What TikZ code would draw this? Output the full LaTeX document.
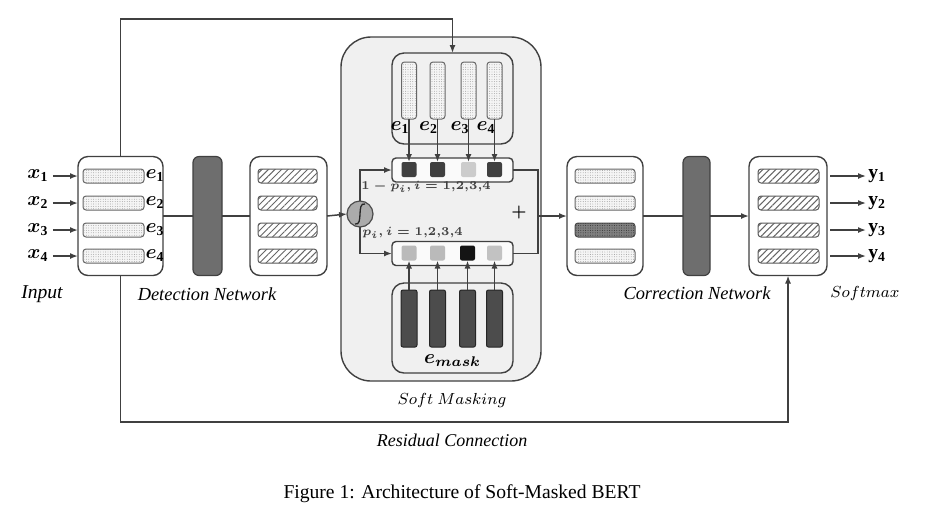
\documentclass[tikz,border=0pt]{standalone}
\usepackage{fontspec}
\setmainfont{Liberation Serif}
\usepackage{bm}
\usetikzlibrary{arrows.meta,patterns.meta,calc}
\begin{document}
\begin{tikzpicture}[x=0.5pt,y=-0.5pt,
  wire/.style={draw=black!75,line width=0.75pt},
  wirearr/.style={wire,-{Latex[length=4pt,width=3pt]}},
  roundbox/.style={draw=black!75,line width=0.7pt,rounded corners=5pt,fill=white,inner sep=0pt,outer sep=0pt},
  dotbar/.style={draw=black!60,line width=0.5pt,rounded corners=1.5pt,fill=gray!8,inner sep=0pt,outer sep=0pt,
     postaction={pattern={Dots[radius=0.22pt,distance=1.2pt]},pattern color=black!45}},
  darkdotbar/.style={draw=black!70,line width=0.5pt,rounded corners=1.5pt,fill=black!50,inner sep=0pt,outer sep=0pt,
     postaction={pattern={Dots[radius=0.25pt,distance=1.2pt]},pattern color=black!80}},
  hatchbar/.style={draw=black!65,line width=0.5pt,rounded corners=1.5pt,fill=white,inner sep=0pt,outer sep=0pt,
     postaction={pattern={Lines[angle=45,distance=2.3pt,line width=0.5pt]},pattern color=black!60}},
  darkbar/.style={draw=black!75,line width=0.6pt,fill=black!57,rounded corners=3pt,inner sep=0pt,outer sep=0pt},
  maskbar/.style={draw=black!85,line width=0.5pt,fill=black!70,rounded corners=1pt,inner sep=0pt,outer sep=0pt},
  sq/.style={minimum width=7.5pt,minimum height=7.5pt,inner sep=0pt,outer sep=0pt,rounded corners=1pt,draw=none},
  lbl/.style={inner sep=0.5pt,font=\fontsize{9.8}{11}\selectfont},
  txt/.style={inner sep=0pt,font=\fontsize{9.2}{11}\selectfont\itshape}
]
\useasboundingbox (0,0) rectangle (929,516);

% ---------- Input ----------
\node[roundbox,minimum width=42.5pt,minimum height=59.5pt] (inbox) at (120.5,216) {};
\foreach \i/\yy in {1/176,2/203,3/230,4/256}{
  \node[dotbar,minimum width=30.5pt,minimum height=7pt] (ib\i) at (113.5,\yy) {};
  \node[lbl] (ie\i) at (155,\yy) {$\bm{e}_{\mathbf{\i}}$};
  \node[lbl,inner sep=2pt] (xl\i) at (38,\yy) {$\bm{x}_{\mathbf{\i}}$};
  \draw[wirearr] (xl\i.east) -- (xl\i.east -| inbox.west);
}

% ---------- Detection ----------
\node[darkbar,minimum width=14.5pt,minimum height=59.5pt] (detbar) at (207.5,216) {};
\node[roundbox,minimum width=38.5pt,minimum height=59.5pt] (hidbox) at (288.5,216) {};
\foreach \i/\yy in {1/176,2/203,3/230,4/256}{
  \node[hatchbar,minimum width=29.5pt,minimum height=7pt] (hb\i) at (287.5,\yy) {};
}

% ---------- Soft masking ----------
\node[draw=black!75,line width=0.7pt,fill=gray!12,rounded corners=15pt,minimum width=100pt,minimum height=172pt,inner sep=0pt,outer sep=0pt] (softbox) at (441,209) {};
\node[roundbox,fill=gray!12,rounded corners=6pt,minimum width=60.5pt,minimum height=45.5pt] (topbox) at (452.5,98.5) {};
\node[roundbox,fill=gray!4,rounded corners=2pt,minimum width=60.5pt,minimum height=12pt] (topvec) at (452.5,170) {};
\node[roundbox,fill=gray!4,rounded corners=2pt,minimum width=60.5pt,minimum height=12pt] (botvec) at (452.5,253.5) {};
\node[roundbox,fill=gray!12,rounded corners=6pt,minimum width=60.5pt,minimum height=45pt] (botbox) at (452.5,328) {};

\foreach \i/\xx/\lx/\c in {1/409/400/black!75,2/437.5/428.5/black!75,3/468.5/460/black!20,4/494.5/486/black!75}{
  \node[dotbar,minimum width=7.5pt,minimum height=28.5pt] (tb\i) at (\xx,90.5) {};
  \node[lbl] (el\i) at (\lx,128) {$\bm{e}_{\mathbf{\i}}$};
  \node[sq,fill=\c] (ts\i) at (\xx,169.5) {};
  \draw[wirearr] (tb\i.south) -- (ts\i.north);
}
\foreach \i/\xx/\c in {1/409/black!27,2/437.5/black!27,3/467.5/black!92,4/494.5/black!24}{
  \node[sq,fill=\c] (bs\i) at (\xx,253) {};
  \node[maskbar,minimum width=8pt,minimum height=28.5pt] (mb\i) at (\xx,318.5) {};
  \draw[wirearr] (mb\i.north) -- (bs\i.south);
}
\node[lbl,font=\fontsize{9.8}{10}\selectfont] (emask) at (452.5,361) {$\bm{e}_{\bm{mask}}$};

\node[circle,draw=black!70,fill=black!33,minimum size=13pt,inner sep=0pt,outer sep=0pt,line width=0.6pt] (sig) at (360,214) {};
\draw[black!85,line width=0.65pt] ($(sig.center)+(5,-10)$) .. controls ($(sig.center)+(-4,-12)$) and ($(sig.center)+(4,12)$) .. ($(sig.center)+(-5,10)$);

\node[anchor=west,inner sep=0pt,text=black!75,font=\fontsize{6}{7}\selectfont\boldmath] (p1) at (361,187) {$1-p_i, i=1{,}2{,}3{,}4$};
\node[anchor=west,inner sep=0pt,text=black!75,font=\fontsize{6}{7}\selectfont\boldmath] (p2) at (362,233) {$p_i, i=1{,}2{,}3{,}4$};
\node[inner sep=0pt,font=\fontsize{8}{9}\selectfont] (plus) at (519,212) {$\bm{+}$};

\draw[wire] (inbox.east) -- (detbar.west);
\draw[wire] (detbar.east) -- (hidbox.west);
\draw[wirearr] (hidbox.east) -- (sig.west);
\draw[wirearr] (sig.north) |- (topvec.west);
\draw[wirearr] (sig.south) |- (botvec.west);

% ---------- Correction ----------
\node[roundbox,minimum width=38pt,minimum height=59.5pt] (corbox) at (605,216) {};
\foreach \i/\yy/\s in {1/176/dotbar,2/203/dotbar,3/230/darkdotbar,4/256/dotbar}{
  \node[\s,minimum width=30pt,minimum height=7pt] (cb\i) at (605,\yy) {};
}
\node[darkbar,minimum width=13.5pt,minimum height=59.5pt] (corbar) at (696.5,216) {};
\node[roundbox,minimum width=39pt,minimum height=59.5pt] (smbox) at (788,216) {};
\foreach \i/\yy in {1/176,2/203,3/230,4/256}{
  \node[hatchbar,minimum width=30.5pt,minimum height=7pt] (sm\i) at (788.5,\yy) {};
  \node[lbl,anchor=west,inner sep=1pt] (yl\i) at (866,\yy) {$\mathbf{y}_{\mathbf{\i}}$};
  \draw[wirearr,shorten <=1.5pt] (smbox.east |- sm\i.center) -- (yl\i.west);
}

\coordinate (merge) at (538,216);
\draw[wire] (topvec.east) -| (merge);
\draw[wire] (botvec.east) -| (merge);
\draw[wirearr] (merge) -- (corbox.west);
\draw[wire] (corbox.east) -- (corbar.west);
\draw[wirearr] (corbar.east) -- (smbox.west);

% ---------- Residual paths ----------
\coordinate (topline) at (0,19);
\coordinate (botline) at (0,422);
\draw[wirearr] (inbox.north) -- (inbox.north |- topline) -| (topbox.north);
\draw[wirearr] (inbox.south) -- (inbox.south |- botline) -| (smbox.south);

% ---------- Labels ----------
\node[txt,font=\fontsize{9.8}{11}\selectfont\itshape] (linput) at (42,294) {Input};
\node[txt] (ldet) at (207,294) {Detection Network};
\node[txt] (lcor) at (697,293) {Correction Network};
\node[inner sep=0pt,font=\fontsize{8.5}{10}\selectfont] (lsm) at (865,293) {$Softmax$};
\node[inner sep=0pt,font=\fontsize{8.2}{10}\selectfont] (lsoft) at (452,400) {$Soft\ Masking$};
\node[txt,font=\fontsize{9}{11}\selectfont\itshape] (lres) at (452,440) {Residual Connection};
\node[inner sep=0pt,font=\fontsize{9.8}{12}\selectfont] (cap) at (462,494) {Figure 1: Architecture of Soft-Masked BERT};
\end{tikzpicture}
\end{document}
